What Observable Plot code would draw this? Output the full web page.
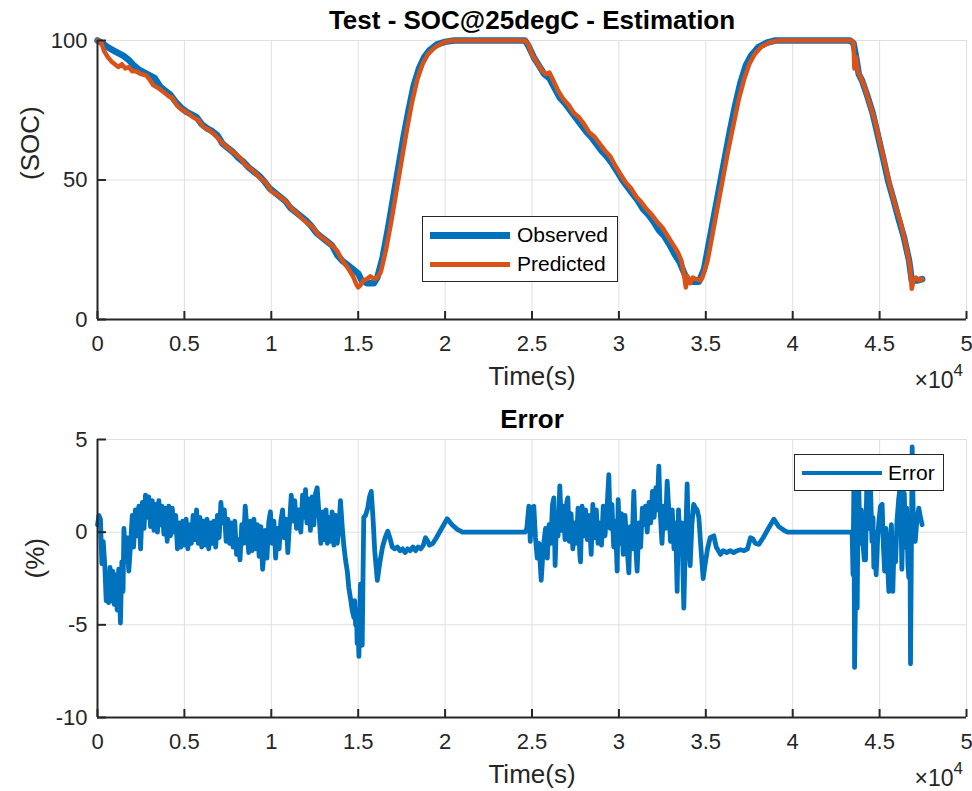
<!DOCTYPE html>
<html>
<head>
<meta charset="utf-8">
<script src="https://cdn.jsdelivr.net/npm/d3@7"></script>
<script src="https://cdn.jsdelivr.net/npm/@observablehq/plot@0.6"></script>
<style>
  body { margin: 0; background: #fff; }
  #fig { position: relative; width: 972px; height: 791px; background: #fff; overflow: hidden;
         font-family: "Liberation Sans", Arial, Helvetica, sans-serif; }
  #fig > .panel { position: absolute; left: 0; }
  .legend { position: absolute; background: #fff; border: 1.5px solid #262626; box-sizing: border-box; }
  .legend .sw { position: absolute; }
  .legend .lb { position: absolute; font-size: 21px; color: #000; line-height: 1; white-space: nowrap; }
</style>
</head>
<body>
<div id="fig"></div>
<script>
// ---------------- data ----------------
const xTicks = [0, 5000, 10000, 15000, 20000, 25000, 30000, 35000, 40000, 45000, 50000];
const xTickLabels = ["0", "0.5", "1", "1.5", "2", "2.5", "3", "3.5", "4", "4.5", "5"];
const socTicks = [0, 50, 100];
const socTickLabels = ["0", "50", "100"];
const errTicks = [-10, -5, 0, 5];
const errTickLabels = ["-10", "-5", "0", "5"];

const obsTime = [0,300,600,900,1200,1500,1800,2100,2400,2700,3000,3300,3600,3900,4200,4500,4800,5100,5400,5700,6000,6300,6600,6900,7200,7500,7800,8100,8400,8700,9000,9300,9600,9900,10200,10500,10800,11100,11400,11700,12000,12300,12600,12900,13200,13500,13800,14100,14400,14700,15000,15200,15500,15900,16100,16400,16700,17000,17300,17600,17900,18200,18500,18800,19100,19500,20000,20500,24600,24800,25100,25400,25700,26000,26300,26600,26900,27200,27500,27800,28100,28400,28700,29000,29300,29600,29900,30200,30500,30800,31100,31400,31700,32000,32300,32600,32900,33200,33500,33800,34000,34600,34900,35200,35500,35800,36100,36400,36700,37000,37300,37600,38000,38500,39000,43300,43500,43650,43800,44000,44300,44600,44900,45200,45500,45800,46100,46400,46700,46850,47200,47450];
const obsSOC = [100,99,97.5,96.5,95.5,94.5,93,91,89.5,88.5,87.5,86.5,83.5,82,80.5,78,76,74.5,73.5,72.5,70,68.5,67.5,66,63,61.5,60,58,56.5,54.5,53,51.5,49.5,47,45.5,44,42.5,40,38.5,37,35.5,33.5,31,29.5,28,26.5,23,21,19.5,18,16.5,14,13,13,15,22,32,43,54,65,75,84,90,94,96.5,98.5,99.5,100,100,98,94,91,88,86.5,83,79.5,77.5,75,72.5,70,67.5,65.5,63,60.5,58.5,56,53,50,47.5,45,42.5,39.5,37.5,35,32,30,27,23.5,20.5,16,13.5,13.5,18,28,38,48,58,68,77,85,91,94.5,97.5,99.2,100,100,99,94,88,85.5,80,74,66,58,49.5,43,36,29.5,21,14,14,14.5];

const predTime = [0,200,400,600,800,1000,1200,1400,1600,1800,2000,2200,2500,2800,3000,3200,3500,3800,4100,4300,4600,4900,5200,5500,5800,6100,6400,6700,7000,7300,7600,7900,8200,8500,8800,9100,9400,9700,10000,10300,10600,10900,11200,11500,11800,12100,12400,12700,13000,13300,13600,13800,14100,14400,14700,14900,15000,15150,15300,15500,15700,15900,16100,16300,16600,16900,17200,17500,17800,18100,18400,18700,19000,19400,19900,20400,24600,24800,25000,25300,25600,25800,26000,26200,26500,26800,27100,27400,27700,28000,28300,28600,28900,29200,29500,29800,30100,30400,30700,31000,31300,31600,31900,32200,32500,32800,33100,33400,33600,33750,33850,33950,34100,34250,34450,34700,34800,35100,35400,35700,36000,36300,36600,36900,37200,37500,37800,38200,38700,39200,43400,43500,43550,43650,43750,43900,44100,44400,44700,45000,45300,45600,45900,46200,46500,46750,46850,46950,47100,47300,47450];
const predSOC = [100,99.5,96,94,92.5,91.5,90.5,91.5,90,90.5,89,89,88,87.5,86,84,83,81.5,80,79.5,76.5,75,74,72.5,71.5,69,68,66.5,64.5,62.5,61,59.5,58,55.5,54,52.5,50.5,49,46,45,43.5,42,39.5,38,36,34.5,33,30.5,29,27.5,26,24.5,21,18.5,15.5,12.5,11.5,12.5,14,14.5,15.5,14.5,15,17,25,35,46,57,68,78,86,91.5,95,97.5,99.3,100,100,98.5,95,92,89,88,88.5,86,82,79,77,74,72.5,70,67,65.5,63,60.5,58.5,55,52,49,47,44,42,39.5,37.5,35,33,30,27,24,21,16,11.5,15.5,13,15,14.5,14,15,21,31,41,51,61,70,79,86,91.5,95,97.8,99.4,100,100,99,90,94,89,87,84,78,72,64,56,48,41,35,27,19,11,14,15,14,14.5];

const errTime = [0,80,170,250,330,420,500,560,640,720,800,880,960,1040,1130,1220,1320,1400,1470,1520,1600,1700,1800,1900,2000,2080,2180,2280,2380,2480,2580,2680,2760,2850,2950,3050,3150,3250,3350,3450,3530,3620,3720,3820,3920,4010,4100,4200,4300,4400,4500,4600,4700,4800,4900,5000,5100,5200,5300,5400,5500,5600,5700,5800,5900,6000,6100,6200,6300,6400,6500,6600,6700,6800,6900,7000,7100,7200,7300,7400,7500,7600,7700,7800,7900,8000,8100,8200,8300,8400,8500,8600,8700,8800,8900,9000,9100,9200,9300,9400,9500,9580,9650,9750,9850,9950,10050,10150,10250,10350,10450,10550,10650,10750,10850,10950,11050,11150,11250,11350,11450,11580,11700,11800,11900,11970,12050,12150,12250,12350,12450,12550,12640,12750,12850,12950,13050,13150,13220,13300,13400,13500,13600,13700,13800,13900,13980,14080,14170,14270,14370,14460,14560,14650,14750,14800,14850,14900,14940,15000,15040,15090,15130,15180,15230,15280,15320,15420,15550,15650,15750,15850,15950,16100,16250,16400,16550,16700,16850,16960,17100,17250,17400,17550,17700,17850,18000,18150,18300,18450,18600,18750,18870,18950,19100,19300,19500,19800,20120,20400,20700,21000,24600,24700,24820,24900,24980,25105,25200,25300,25400,25530,25650,25780,25880,25980,26080,26180,26256,26330,26420,26500,26600,26700,26800,26900,27000,27062,27150,27250,27350,27450,27550,27650,27750,27791,27880,27980,28080,28180,28280,28406,28500,28600,28700,28800,28900,29000,29100,29200,29300,29421,29500,29600,29700,29800,29901,29958,30050,30150,30250,30350,30450,30571,30650,30750,30859,30950,31050,31150,31250,31350,31430,31530,31630,31730,31830,31930,32030,32130,32200,32297,32380,32480,32580,32680,32777,32870,32970,33070,33170,33260,33352,33430,33530,33620,33735,33800,33880,33927,34000,34100,34200,34300,34407,34500,34600,34700,34848,34950,35100,35250,35461,35600,35845,36000,36200,36400,36600,36800,37000,37200,37400,37572,37700,37850,38050,38300,38600,38913,39200,39500,39700,43420,43470,43520,43560,43620,43710,43760,43802,43870,43950,44050,44120,44189,44260,44330,44400,44476,44560,44620,44669,44730,44800,44880,44960,45050,45147,45220,45290,45360,45450,45531,45600,45680,45760,45830,45920,46000,46100,46202,46280,46350,46420,46500,46560,46630,46682,46750,46778,46820,46874,46950,47050,47150,47255,47350,47447];
const errPct = [0.4,0.9,0.7,-1.7,-0.5,-1.8,-3.7,-2.5,-3.8,-1.9,-3.7,-2.1,-3.9,-2.3,-4.2,-2.0,-4.9,-1.6,-3.2,0.2,-1.6,-0.3,-2.1,-0.7,0.9,-0.8,1.2,-0.2,1.4,-0.9,1.6,0.2,2.0,0.8,1.9,0.3,1.7,0.1,1.5,0.0,1.7,0.4,1.4,-0.1,1.3,-0.5,1.4,-0.2,1.3,0.0,0.9,-0.9,0.5,-0.8,0.6,-0.7,0.7,-0.9,0.4,-0.6,0.9,-0.4,1.2,-0.6,0.8,-0.8,0.6,-0.7,0.7,-0.9,0.5,-0.6,0.6,-0.8,0.9,-0.3,1.6,0.5,1.2,-0.5,0.7,-0.6,0.5,-0.8,0.6,-1.2,-0.4,-1.5,0.4,-0.6,1.4,0.2,-1.1,0.6,-1.0,0.7,-0.9,0.4,-1.3,0.3,-2.0,-1.0,0.1,-1.4,0.5,1.1,-0.6,0.6,-1.4,0.2,-0.9,0.6,1.2,-0.3,0.7,-1.1,0.5,2.0,0.6,1.7,0.2,1.2,0.0,2.0,0.8,2.3,0.5,1.8,0.1,1.9,0.4,2.1,2.4,0.9,-0.6,1.1,-0.4,1.2,-0.6,0.8,-0.5,1.1,-0.7,0.9,-0.6,0.4,1.7,0.3,-0.7,-1.5,-2.1,-3.0,-3.6,-4.2,-4.6,-3.7,-5.0,-4.2,-6.0,-5.3,-6.7,-4.5,-2.8,-5.5,-6.1,-2.2,0.8,0.9,1.3,1.9,2.2,0.8,-1.0,-2.6,-1.6,-0.8,-0.3,0.05,-0.4,-0.8,-0.9,-0.8,-1.0,-0.9,-1.1,-0.9,-1.0,-0.8,-1.0,-0.8,-0.9,-0.7,-0.3,-0.4,-0.7,-0.6,-0.3,0.2,0.72,0.4,0.15,0.0,0.0,0.2,1.4,-0.5,1.3,1.4,-0.3,-1.4,-0.6,-2.6,-0.8,0.2,-1.4,0.4,-0.6,1.5,1.85,-1.8,0.8,-0.2,2.5,0.1,1.4,-0.4,1.6,1.85,-0.5,1.0,-0.9,0.5,-0.6,1.3,-1.2,-1.6,1.4,-0.2,1.2,-0.4,0.9,-1.2,1.5,-0.3,1.2,-0.6,0.5,-0.7,1.4,-0.2,1.0,3.1,0.2,1.5,-0.8,0.6,-2.1,1.76,-0.6,1.0,-1.2,0.9,-0.5,-2.2,0.3,-0.9,2.2,-0.5,-2.1,0.5,-0.8,1.3,0.4,1.4,0.0,1.6,0.5,2.2,0.8,2.4,1.2,3.56,1.0,-0.6,1.4,0.2,2.75,1.2,-0.5,1.2,-0.9,0.5,-3.2,1.2,-1.0,0.5,-4.1,-1.5,1.0,2.6,-0.3,-1.8,0.4,1.5,1.3,1.2,0.8,-0.6,-2.5,-1.8,-0.9,-0.3,-0.2,-0.8,-1.2,-1.0,-1.1,-1.0,-1.1,-1.0,-0.95,-1.0,-0.9,-0.3,-0.35,-0.6,-0.66,-0.3,0.2,0.7,0.3,0.1,0.0,0.0,-2.3,2.6,-7.3,-3.0,-4.1,1.0,2.4,-0.6,1.2,-0.7,-1.5,-1.5,2.4,0.2,1.6,2.5,-0.5,0.8,-1.9,0.0,-2.3,-0.5,0.6,1.4,1.5,-0.8,-2.1,0.2,-1.5,-3.2,-0.8,0.4,-3.2,-0.8,-1.6,0.6,1.8,2.6,-2.0,1.0,2.1,-0.8,1.3,-1.8,-2.45,-0.5,-7.1,-2.0,4.6,0.0,-0.5,0.7,1.3,0.8,0.4];

// ---------------- style ----------------
const BLUE = "#0072BD", ORANGE = "#D95319";
const GRID = "#dfdfdf", AXIS = "#262626";
const FONT = '"Liberation Sans", Arial, Helvetica, sans-serif';

const observed = obsTime.map((t, i) => ({t, v: obsSOC[i]}));
const predicted = predTime.map((t, i) => ({t, v: predSOC[i]}));
const errors = errTime.map((t, i) => ({t, v: errPct[i]}));

const fig = document.getElementById("fig");

function panel({height, marginTop, marginBottom, yDomain, yTicks, yLabels, title, yLabel, yLabelOffset, series}) {
  const marginLeft = 97, marginRight = 6, width = 972;
  const frameW = width - marginLeft - marginRight;
  const frameH = height - marginTop - marginBottom;
  return Plot.plot({
    width, height, marginTop, marginBottom, marginLeft, marginRight,
    style: {fontFamily: FONT, fontSize: "22px", color: AXIS, background: "white", overflow: "visible"},
    x: {domain: [0, 50000]},
    y: {domain: yDomain},
    marks: [
      Plot.gridX(xTicks, {stroke: GRID, strokeOpacity: 1, strokeWidth: 1}),
      Plot.gridY(yTicks, {stroke: GRID, strokeOpacity: 1, strokeWidth: 1}),
      ...series,
      Plot.ruleX([0], {stroke: AXIS, strokeWidth: 2}),
      Plot.ruleY([yDomain[0]], {stroke: AXIS, strokeWidth: 2}),
      Plot.ruleX(xTicks, {x: d => d, insetTop: frameH - 8, stroke: AXIS, strokeWidth: 2}),
      Plot.ruleY(yTicks, {y: d => d, insetRight: frameW - 9, stroke: AXIS, strokeWidth: 2}),
      Plot.axisX(xTicks, {tickSize: 0, tickPadding: 16, label: null, fill: AXIS, fontSize: 22,
        tickFormat: d => xTickLabels[xTicks.indexOf(d)]}),
      Plot.axisY(yTicks, {tickSize: 0, tickPadding: 10, label: null, fill: AXIS, fontSize: 22,
        tickFormat: d => yLabels[yTicks.indexOf(d)]}),
      Plot.text([title], {text: d => d, frameAnchor: "top", lineAnchor: "middle", dy: -20, fontSize: 26, fontWeight: "bold", fill: "#000"}),
      Plot.text(["Time(s)"], {text: d => d, frameAnchor: "bottom", lineAnchor: "middle", dy: 57, fontSize: 26, fill: AXIS}),
      Plot.text([yLabel], {text: d => d, frameAnchor: "left", lineAnchor: "middle", dx: -yLabelOffset, rotate: -90, fontSize: 26, fill: AXIS}),
      Plot.text(["×10"], {text: d => d, frameAnchor: "bottom-right", lineAnchor: "middle", textAnchor: "end", dx: -13, dy: 61, fontSize: 23, fill: AXIS}),
      Plot.text(["4"], {text: d => d, frameAnchor: "bottom-right", lineAnchor: "middle", textAnchor: "start", dx: -13, dy: 51, fontSize: 17, fill: AXIS})
    ]
  });
}

const topPlot = panel({
  height: 400, marginTop: 40, marginBottom: 81,
  yDomain: [0, 100], yTicks: socTicks, yLabels: socTickLabels,
  title: "Test - SOC@25degC - Estimation", yLabel: "(SOC)", yLabelOffset: 67,
  series: [
    Plot.line(observed, {x: "t", y: "v", stroke: BLUE, strokeWidth: 6.5, strokeLinejoin: "round", strokeLinecap: "round"}),
    Plot.line(predicted, {x: "t", y: "v", stroke: ORANGE, strokeWidth: 4.5, strokeLinejoin: "round", strokeLinecap: "round"})
  ]
});
topPlot.classList.add("panel");
topPlot.style.top = "0px";
fig.appendChild(topPlot);

const botPlot = panel({
  height: 391, marginTop: 39, marginBottom: 74,
  yDomain: [-10, 5], yTicks: errTicks, yLabels: errTickLabels,
  title: "Error", yLabel: "(%)", yLabelOffset: 62,
  series: [
    Plot.line(errors, {x: "t", y: "v", stroke: BLUE, strokeWidth: 4.8, strokeLinejoin: "round", strokeLinecap: "round"})
  ]
});
botPlot.classList.add("panel");
botPlot.style.top = "400px";
fig.appendChild(botPlot);

// ---------------- legends ----------------
function legend(box, items) {
  const d = document.createElement("div");
  d.className = "legend";
  Object.assign(d.style, {left: box.left + "px", top: box.top + "px", width: box.width + "px", height: box.height + "px"});
  for (const it of items) {
    const sw = document.createElement("div");
    sw.className = "sw";
    Object.assign(sw.style, {left: it.x0 + "px", width: it.w + "px", top: (it.cy - it.lw / 2) + "px", height: it.lw + "px", background: it.color});
    d.appendChild(sw);
    const lb = document.createElement("div");
    lb.className = "lb";
    lb.textContent = it.label;
    Object.assign(lb.style, {left: it.tx + "px", top: (it.cy - 11) + "px"});
    d.appendChild(lb);
  }
  fig.appendChild(d);
}
legend({left: 422, top: 216, width: 196, height: 66}, [
  {label: "Observed", color: BLUE, lw: 7, x0: 7, w: 80, cy: 18, tx: 94},
  {label: "Predicted", color: ORANGE, lw: 5, x0: 7, w: 80, cy: 47, tx: 94}
]);
legend({left: 794, top: 454, width: 150, height: 37}, [
  {label: "Error", color: BLUE, lw: 4.5, x0: 7, w: 80, cy: 18, tx: 93}
]);
</script>
</body>
</html>
